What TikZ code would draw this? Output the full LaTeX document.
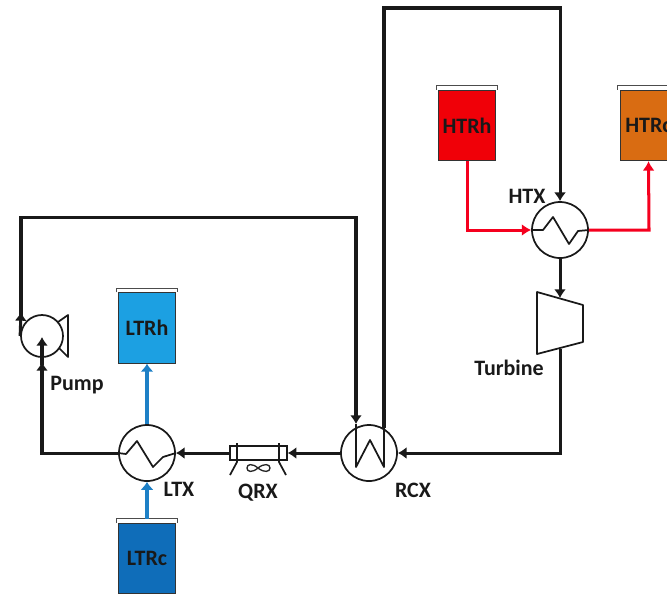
\documentclass[tikz,border=0pt]{standalone}
\usepackage{fontspec}
\setmainfont{Carlito}
\usetikzlibrary{arrows.meta,calc}
\definecolor{ltrh}{HTML}{1CA0E2}
\definecolor{ltrc}{HTML}{0F6DB9}
\definecolor{htrh}{HTML}{F00008}
\definecolor{htrc}{HTML}{D96C12}
\definecolor{blueflow}{HTML}{1E80C6}
\definecolor{redflow}{HTML}{F5001E}
\tikzset{
  flow/.style={line width=2.26pt,draw=black!90,-{Latex[length=6.5pt,width=9pt]}},
  flowplain/.style={line width=2.26pt,draw=black!90},
  blueline/.style={line width=2.26pt,draw=blueflow,-{Latex[length=6pt,width=10pt]}},
  redline/.style={line width=2.26pt,draw=redflow,-{Latex[length=7pt,width=9pt]}},
  hx/.style={circle,draw=black!90,line width=1.3pt,minimum size=42pt,inner sep=0pt,fill=white},
  pumpc/.style={circle,draw=black!90,line width=1.3pt,minimum size=31.5pt,inner sep=0pt},
  tank/.style={rectangle,draw=black!80,line width=.6pt,minimum width=42.5pt,minimum height=53pt,inner sep=0pt,font=\fontsize{16.5}{18}\selectfont\bfseries,text=black!90},
  lid/.style={line width=.9pt,draw=black!70},
  lbl/.style={font=\fontsize{16.5}{18}\selectfont\bfseries,text=black!90,inner sep=0pt},
  thin part/.style={line width=1.3pt,draw=black!90,line join=round}
}
\begin{document}
\begin{tikzpicture}[x=.75pt,y=-.75pt]
\useasboundingbox (0,0) rectangle (667,597);
\clip (0,0) rectangle (667,597);
% tanks
\node[tank,fill=ltrh] (LTRh) at (147,328) {LTRh};
\node[tank,fill=ltrc] (LTRc) at (147,558.5) {LTRc};
\node[tank,fill=htrh] (HTRh) at (467,125.5) {HTRh};
\node[tank,fill=htrc] (HTRc) at (648.5,125.5) {HTRc};
\draw[lid] ($(LTRh.north west)+(-1.5pt,0pt)$) |- ($(LTRh.north east)+(1.5pt,3pt)$) -- ($(LTRh.north east)+(1.5pt,0pt)$);
\draw[lid] ($(LTRc.north west)+(-1.5pt,0pt)$) |- ($(LTRc.north east)+(1.5pt,3pt)$) -- ($(LTRc.north east)+(1.5pt,0pt)$);
\draw[lid] ($(HTRh.north west)+(-1.5pt,0pt)$) |- ($(HTRh.north east)+(1.5pt,3pt)$) -- ($(HTRh.north east)+(1.5pt,0pt)$);
\draw[lid] ($(HTRc.north west)+(-1.5pt,0pt)$) |- ($(HTRc.north east)+(1.5pt,3pt)$) -- ($(HTRc.north east)+(1.5pt,0pt)$);
% exchangers and pump
\node[hx] (LTX) at (147,453) {};
\node[hx] (RCX) at (369,453) {};
\node[hx] (HTX) at (560,230) {};
\node[pumpc] (Pump) at (42,336) {};
\draw[thin part] (58,322) -- (68,315) -- (68,357) -- (59,348);
% zigzags
\draw[thin part] (LTX.west) -- (126,454) -- (137,441) -- (153,467) -- (163,457) -- (LTX.east);
\draw[thin part] (HTX.west) -- (543,230) -- (553,217) -- (569,244) -- (578,231) -- (HTX.east);
% turbine
\coordinate (Tin) at (560,298);
\coordinate (Tout) at (560,349);
\draw[thin part] (537,292) -- (583,305) -- (583,342) -- (537,354) -- cycle;
% cooler
\node[draw=black!90,line width=1.3pt,minimum width=42.5pt,minimum height=10.5pt,inner sep=0pt] (QRX) at (258.5,453) {};
\draw[thin part] (237,443) -- (237,462) -- (230,475);
\draw[thin part] (279,443) -- (279,462) -- (286,475);
\draw[line width=1pt,draw=black!85] (258,468) .. controls (252,463) and (247,464) .. (247,468) .. controls (247,472) and (252,473) .. (258,468) .. controls (264,463) and (270,464) .. (270,468) .. controls (270,472) and (264,473) .. (258,468);
% RCX inner coil and its pipes
\coordinate (Rtop) at (384,8);
\coordinate (Htop) at (560,8);
\coordinate (PumpTop) at (21,217);
\coordinate (Rcorner) at (356,217);
\draw[thin part] (356,424) -- (356,467) -- (370,440) -- (384,467) -- (384,426);
% main loop
\draw[flowplain,line join=miter] (384,428) -- (Rtop) -- (Htop) -- (560,195);
\draw[flow] (560,190) -- (HTX.north);
\draw[flow] (HTX.south) -- (Tin);
\draw[flowplain,line join=miter] (Tout) -- (560,453) -- (410,453);
\draw[flow] (420,453) -- (RCX.east);
\draw[flow] (RCX.west) -- (QRX.east);
\draw[flow] (QRX.west) -- (LTX.east);
\draw[flowplain,line join=miter] (LTX.west) -- (42,453) -- (42,380);
\draw[flow] (42,385) -- (42,362);
\draw[flow] (42,365) -- (42,337);
\draw[flow] (Pump.west) -- (21,312);
\draw[flowplain,line join=miter] (21,318) -- (PumpTop) -- (Rcorner) -- (356,400);
\draw[flow] (356,395) -- (356,424);
% hot and cold flows
\draw[blueline] (LTX.north) -- (LTRh.south);
\draw[blueline] ($(LTRc.north)+(0,3pt)$) -- (LTX.south);
\draw[redline] (HTRh.south) -- (467,230) -- (HTX.west);
\draw[redline] (HTX.east) -- (649,230) -- (HTRc.south);
% labels
\node[lbl] (tPump) at (77,385) {Pump};
\node[lbl] (tLTX) at (179,489) {LTX};
\node[lbl] (tQRX) at (258,493) {QRX};
\node[lbl] (tRCX) at (413,490) {RCX};
\node[lbl] (tHTX) at (527,196) {HTX};
\node[lbl] (tTurb) at (509,368) {Turbine};
\end{tikzpicture}
\end{document}
